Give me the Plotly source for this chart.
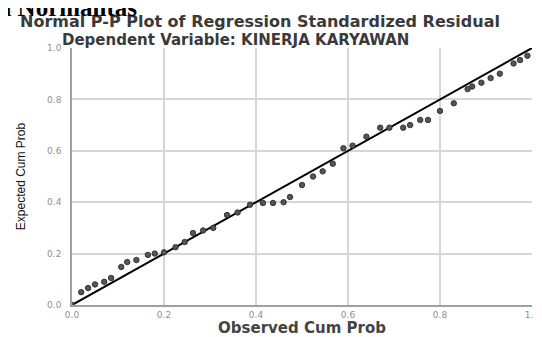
import plotly.graph_objects as go

observed = [0.0, 0.02, 0.035, 0.05, 0.07, 0.085, 0.107, 0.12, 0.14, 0.165, 0.18, 0.2, 0.225,
            0.245, 0.263, 0.285, 0.307, 0.337, 0.36, 0.387, 0.415, 0.437, 0.46, 0.474,
            0.5, 0.524, 0.545, 0.567, 0.59, 0.61, 0.64, 0.67, 0.69, 0.72, 0.735, 0.757,
            0.774, 0.8, 0.83, 0.86, 0.87, 0.89, 0.91, 0.93, 0.96, 0.974, 0.99]
expected = [0.0, 0.05, 0.066, 0.08, 0.09, 0.105, 0.148, 0.167, 0.175, 0.195, 0.2, 0.205, 0.225,
            0.245, 0.28, 0.29, 0.30, 0.35, 0.36, 0.39, 0.397, 0.397, 0.40, 0.42,
            0.467, 0.50, 0.52, 0.55, 0.61, 0.62, 0.655, 0.69, 0.69, 0.69, 0.70, 0.72,
            0.72, 0.755, 0.785, 0.84, 0.85, 0.865, 0.883, 0.90, 0.94, 0.953, 0.97]
ref_line = [0.0, 1.0]
ticks = [0.0, 0.2, 0.4, 0.6, 0.8, 1.0]
tick_labels = ["0.0", "0.2", "0.4", "0.6", "0.8", "1.0"]

fig = go.Figure()
fig.add_trace(go.Scatter(x=ref_line, y=ref_line, mode="lines",
                         line=dict(color="black", width=2), hoverinfo="skip"))
fig.add_trace(go.Scatter(x=observed, y=expected, mode="markers",
                         marker=dict(size=5.5, color="#555555",
                                     line=dict(color="#222222", width=0.8))))

# the page body adds an 8px margin, so the figure is 8px smaller each way
OFF = 8
W, H = 542 - OFF, 337 - OFF
L, R, T, B = 64, 10, 40, 32
pw, ph = W - L - R, H - T - B

def px(page_x):
    return (page_x - OFF - L) / pw

def py(page_y):
    return (H - B - (page_y - OFF)) / ph

axis_common = dict(range=[0, 1.0], tickvals=ticks, ticktext=tick_labels,
                   showgrid=True, gridcolor="#d6d6d6", gridwidth=1.5,
                   zeroline=False, showline=True, linecolor="#a0a0a0", linewidth=1.5,
                   tickfont=dict(family="DejaVu Sans", size=9, color="#8f8f8f"),
                   ticks="", fixedrange=True, automargin=False)

fig.update_layout(
    width=W, height=H,
    margin=dict(l=L, r=R, t=T, b=B, autoexpand=False),
    paper_bgcolor="white", plot_bgcolor="white",
    showlegend=False,
    xaxis=dict(axis_common, ticklabelstandoff=0,
               title=dict(text="<b>Observed Cum Prob</b>", standoff=3,
                          font=dict(family="DejaVu Sans", size=15, color="#444444"))),
    yaxis=dict(axis_common, ticklabelstandoff=7,
               title=dict(text="Expected Cum Prob", standoff=19,
                          font=dict(family="Liberation Sans, Arial", size=12, color="#111111"))),
    annotations=[
        dict(text="<b>Normal P-P Plot of Regression Standardized Residual</b>",
             xref="paper", yref="paper", x=px(18), y=py(21.5), xanchor="left",
             yanchor="middle", showarrow=False,
             font=dict(family="DejaVu Sans", size=16, color="#3a3a3a")),
        dict(text="<b>Dependent Variable: KINERJA KARYAWAN</b>",
             xref="paper", yref="paper", x=px(60), y=py(40), xanchor="left",
             yanchor="middle", showarrow=False,
             font=dict(family="DejaVu Sans", size=15, color="#3a3a3a")),
        dict(text="<b>Uji Normalitas</b>", xref="paper", yref="paper",
             x=px(139), y=py(7.5), xanchor="right", yanchor="middle", showarrow=False,
             font=dict(family="Liberation Serif, Times New Roman", size=25, color="black")),
    ],
)

fig.write_html("out.html")
